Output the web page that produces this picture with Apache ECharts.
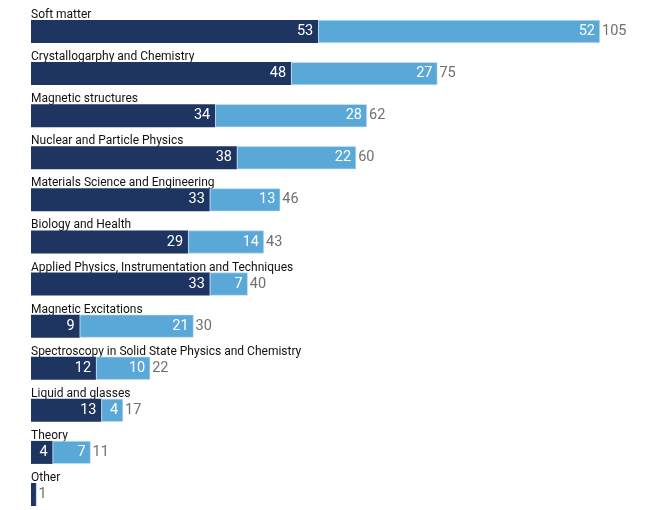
<!DOCTYPE html>
<html>
<head>
<meta charset="utf-8">
<script src="https://cdn.jsdelivr.net/npm/echarts@6/dist/echarts.min.js"></script>
<style>
  html, body { margin: 0; padding: 0; background: #fff; }
  #chart { width: 656px; height: 510px; }
</style>
</head>
<body>
<div id="chart"></div>
<script>
// Research fields, top to bottom
const categories = [
  'Soft matter',
  'Crystallogarphy and Chemistry',
  'Magnetic structures',
  'Nuclear and Particle Physics',
  'Materials Science and Engineering',
  'Biology and Health',
  'Applied Physics, Instrumentation and Techniques',
  'Magnetic Excitations',
  'Spectroscopy in Solid State Physics and Chemistry',
  'Liquid and glasses',
  'Theory',
  'Other'
];
const darkValues  = [53, 48, 34, 38, 33, 29, 33, 9, 12, 13, 4, 1];
const lightValues = [52, 27, 28, 22, 13, 14, 7, 21, 10, 4, 7, 0];
const totals      = [105, 75, 62, 60, 46, 43, 40, 30, 22, 17, 11, 1];

const DARK = '#1e3561';
const LIGHT = '#5aa8d8';
const FONT = 'Roboto, "Liberation Sans", sans-serif';

const inBarLabel = {
  show: true,
  position: 'insideRight',
  color: '#fff',
  fontFamily: FONT,
  fontSize: 14.5,
  distance: 5,
  formatter: p => (p.value >= 2 ? String(p.value) : '')
};

const chart = echarts.init(document.getElementById('chart'), null, { renderer: 'canvas' });
chart.setOption({
  animation: false,
  // categories sit on the grid edges (boundaryGap off): first bar centre at the top, last at the bottom
  grid: { left: 31, top: 31.5, width: 569, bottom: 15.5, containLabel: false },
  xAxis: {
    type: 'value', min: 0, max: 105,
    show: false
  },
  yAxis: {
    type: 'category',
    data: categories,
    inverse: true,
    boundaryGap: false,
    axisLine: { show: false },
    axisTick: { show: false },
    splitLine: { show: false },
    axisLabel: {
      inside: true,
      margin: 0,
      align: 'left',
      verticalAlign: 'bottom',
      padding: [0, 0, 10.5, 0],
      color: '#111',
      fontFamily: FONT,
      fontSize: 12
    }
  },
  series: [
    {
      type: 'bar', stack: 'field', barWidth: 23,
      data: darkValues,
      itemStyle: { color: DARK },
      label: inBarLabel
    },
    {
      type: 'bar', stack: 'field', barWidth: 23,
      data: lightValues,
      itemStyle: { color: LIGHT, borderColor: '#cfe4f3', borderWidth: 0.6 },
      label: inBarLabel
    },
    {
      // invisible bars spanning the full total, used only to place the total label
      type: 'bar', barWidth: 23, barGap: '-100%',
      data: totals,
      itemStyle: { color: 'rgba(0,0,0,0)' },
      silent: true,
      z: 1,
      label: {
        show: true,
        position: 'right',
        distance: 2,
        color: '#707070',
        fontFamily: FONT,
        fontSize: 14.5
      }
    }
  ]
});
</script>
</body>
</html>
